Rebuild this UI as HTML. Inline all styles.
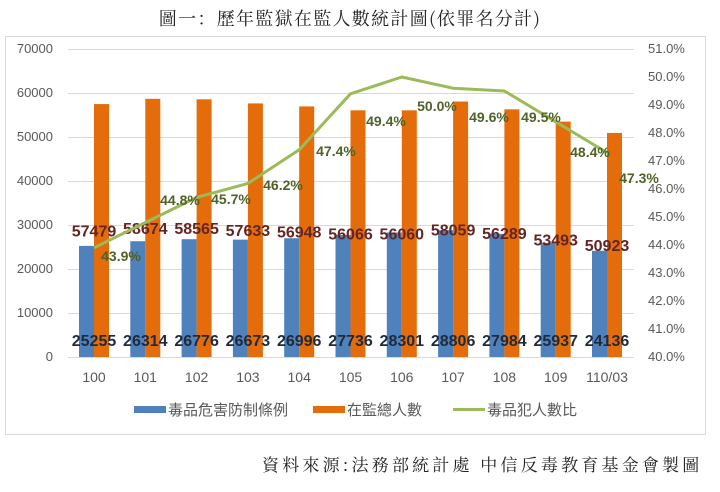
<!DOCTYPE html>
<html><head><meta charset="utf-8"><style>
body{margin:0;background:#fff;}
svg text{font-family:"Liberation Sans","Noto Sans CJK TC",sans-serif;}
</style></head><body>
<svg width="720" height="487" viewBox="0 0 720 487" xmlns="http://www.w3.org/2000/svg">
<text x="350" y="25" font-size="18" letter-spacing="1.3" text-anchor="middle" fill="#222" style="font-family:'Noto Serif CJK SC','Liberation Serif',serif">圖一：歷年監獄在監人數統計圖(依罪名分計)</text>
<rect x="5.5" y="36.5" width="700" height="398" fill="none" stroke="#d9d9d9"/>
<g stroke="#d9d9d9" stroke-width="1">
<line x1="68" x2="634" y1="49.5" y2="49.5"/><line x1="68" x2="634" y1="93.5" y2="93.5"/><line x1="68" x2="634" y1="137.5" y2="137.5"/><line x1="68" x2="634" y1="181.5" y2="181.5"/><line x1="68" x2="634" y1="225.5" y2="225.5"/><line x1="68" x2="634" y1="269.5" y2="269.5"/><line x1="68" x2="634" y1="313.5" y2="313.5"/><line x1="68" x2="634" y1="357.5" y2="357.5"/>
</g>
<g font-size="13" fill="#595959" text-anchor="end">
<text x="53" y="53">70000</text><text x="53" y="97">60000</text><text x="53" y="141">50000</text><text x="53" y="185">40000</text><text x="53" y="229">30000</text><text x="53" y="273">20000</text><text x="53" y="317">10000</text><text x="53" y="361">0</text>
</g>
<g font-size="13" fill="#595959">
<text x="648" y="53">51.0%</text><text x="648" y="81">50.0%</text><text x="648" y="109">49.0%</text><text x="648" y="137">48.0%</text><text x="648" y="165">47.0%</text><text x="648" y="193">46.0%</text><text x="648" y="221">45.0%</text><text x="648" y="249">44.0%</text><text x="648" y="277">43.0%</text><text x="648" y="305">42.0%</text><text x="648" y="333">41.0%</text><text x="648" y="361">40.0%</text>
</g>
<g id="bars"></g>
<polyline fill="none" stroke="#9bbb59" stroke-width="3" stroke-linejoin="round" points="94,247.8 145.3,222.6 196.6,197.4 247.9,183.4 299.2,149.8 350.5,93.8 401.8,77 453.1,88.2 504.4,91 555.7,121.8 607,152.6"/>
<g font-size="14" font-weight="bold" fill="#4f6228" text-anchor="middle">
<text x="121" y="261">43.9%</text><text x="180" y="205">44.8%</text><text x="231" y="204">45.7%</text><text x="283" y="190">46.2%</text><text x="336" y="156">47.4%</text><text x="386" y="126">49.4%</text><text x="437" y="111">50.0%</text><text x="489" y="122">49.6%</text><text x="541" y="122">49.5%</text><text x="590" y="157">48.4%</text><text x="639" y="183">47.3%</text>
</g>
<g font-size="14" fill="#595959" text-anchor="middle">
<text x="94" y="382">100</text><text x="145.3" y="382">101</text><text x="196.6" y="382">102</text><text x="247.9" y="382">103</text><text x="299.2" y="382">104</text><text x="350.5" y="382">105</text><text x="401.8" y="382">106</text><text x="453.1" y="382">107</text><text x="504.4" y="382">108</text><text x="555.7" y="382">109</text><text x="607" y="382">110/03</text>
</g>
<rect x="134" y="406" width="32" height="7" fill="#4f81bd"/>
<text x="168" y="415" font-size="15" fill="#595959">毒品危害防制條例</text>
<rect x="313" y="406" width="32" height="7" fill="#e46c0a"/>
<text x="347" y="415" font-size="15" fill="#595959">在監總人數</text>
<rect x="453" y="408" width="32" height="3" fill="#9bbb59"/>
<text x="487" y="415" font-size="15" fill="#595959">毒品犯人數比</text>
<text x="262" y="471" font-size="17" letter-spacing="3.2" fill="#222" style="font-family:'Noto Serif CJK SC','Liberation Serif',serif">資料來源:法務部統計處 中信反毒教育基金會製圖</text>
</svg>
<script>
var b=[25255,26314,26776,26673,26996,27736,28301,28806,27984,25937,24136];
var o=[57479,58674,58565,57633,56948,56066,56060,58059,56289,53493,50923];
var g=document.getElementById('bars'),s='';
for(var i=0;i<11;i++){var c=94+51.3*i;var hb=b[i]*0.0044,ho=o[i]*0.0044;
s+='<rect x="'+(c-15)+'" y="'+(357-hb)+'" width="15" height="'+hb+'" fill="#4f81bd"/>';
s+='<rect x="'+c+'" y="'+(357-ho)+'" width="15" height="'+ho+'" fill="#e46c0a"/>';}
for(var i=0;i<11;i++){var c=94+51.3*i;
s+='<text x="'+c+'" y="346" font-size="16" font-weight="bold" fill="#1f2a3a" text-anchor="middle">'+b[i]+'</text>';
s+='<text x="'+c+'" y="'+(357-o[i]*0.0022+6)+'" font-size="16" font-weight="bold" fill="#632523" text-anchor="middle">'+o[i]+'</text>';}
g.innerHTML=s;
</script>
</body></html>
